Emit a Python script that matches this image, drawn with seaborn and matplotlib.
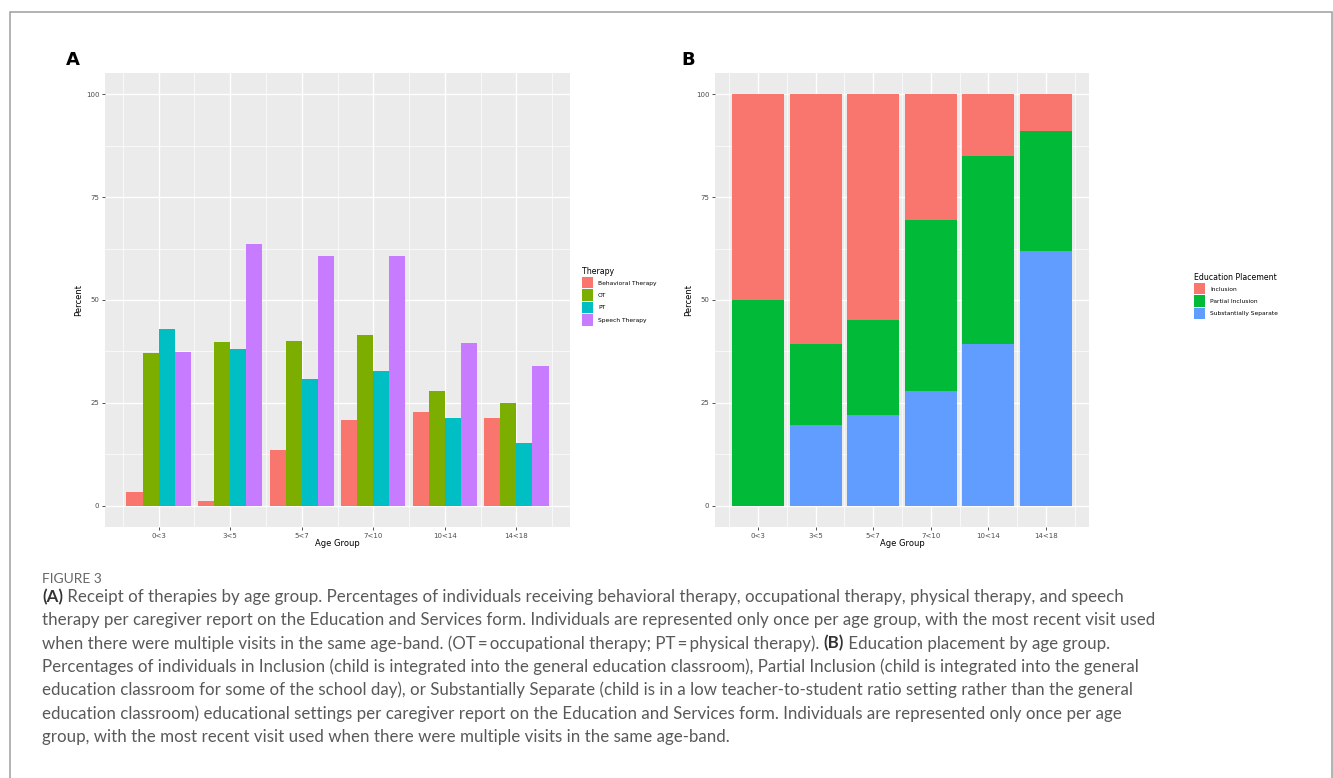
import matplotlib
matplotlib.use("Agg")
import matplotlib.pyplot as plt
import matplotlib.patches as mpatches
from matplotlib.ticker import MultipleLocator
import numpy as np
import pandas as pd
import seaborn as sns

# ---------------- data ----------------
age_groups = ["0<3", "3<5", "5<7", "7<10", "10<14", "14<18"]

therapies = ["Behavioral Therapy", "OT", "PT", "Speech Therapy"]
behavioral = [3.4, 1.1, 13.5, 20.7, 22.8, 21.2]
ot = [37.2, 39.9, 40.0, 41.4, 27.9, 25.0]
pt = [42.9, 38.0, 30.7, 32.7, 21.2, 15.2]
speech = [37.4, 63.6, 60.7, 60.8, 39.5, 34.0]

placements = ["Inclusion", "Partial Inclusion", "Substantially Separate"]
inclusion = [50.0, 60.8, 54.8, 30.5, 15.1, 9.0]
partial = [50.0, 19.7, 23.1, 41.7, 45.5, 29.0]
separate = [0.0, 19.5, 22.1, 27.8, 39.4, 62.0]

therapy_colors = ["#F8766D", "#7CAE00", "#00BFC4", "#C77CFF"]
placement_colors = ["#F8766D", "#00BA38", "#619CFF"]

caption_lines = [
    [("(A)", True), (" Receipt of therapies by age group. Percentages of individuals receiving behavioral therapy, occupational therapy, physical therapy, and speech", False)],
    [("therapy per caregiver report on the Education and Services form. Individuals are represented only once per age group, with the most recent visit used", False)],
    [("when there were multiple visits in the same age-band. (OT\u2009=\u2009occupational therapy; PT\u2009=\u2009physical therapy). ", False), ("(B)", True), (" Education placement by age group.", False)],
    [("Percentages of individuals in Inclusion (child is integrated into the general education classroom), Partial Inclusion (child is integrated into the general", False)],
    [("education classroom for some of the school day), or Substantially Separate (child is in a low teacher-to-student ratio setting rather than the general", False)],
    [("education classroom) educational settings per caregiver report on the Education and Services form. Individuals are represented only once per age", False)],
    [("group, with the most recent visit used when there were multiple visits in the same age-band.", False)],
]

# ---------------- frames ----------------
df_a = pd.DataFrame({
    "Age Group": age_groups * 4,
    "Percent": behavioral + ot + pt + speech,
    "Therapy": sum([[t] * len(age_groups) for t in therapies], []),
})

sep = np.array(separate)
sep_part = sep + np.array(partial)
total = sep_part + np.array(inclusion)
df_b = pd.DataFrame({"Age Group": age_groups, "top": total, "mid": sep_part, "low": sep})

W, H = 1333, 778
fig = plt.figure(figsize=(W / 100, H / 100), dpi=100)
fig.patch.set_facecolor("white")

TICK_C = "#4D4D4D"


def style_axes(ax):
    ax.set_facecolor("#EBEBEB")
    for s in ax.spines.values():
        s.set_visible(False)
    ax.set_xlim(-0.75, 5.75)
    ax.set_ylim(-5.2, 105.2)
    ax.yaxis.set_major_locator(MultipleLocator(25))
    ax.yaxis.set_minor_locator(MultipleLocator(12.5))
    ax.set_xticks(range(len(age_groups)))
    ax.set_xticks(np.arange(-0.5, len(age_groups), 1.0), minor=True)
    ax.set_xticklabels(age_groups)
    ax.grid(which="major", color="white", lw=1.0)
    ax.grid(which="minor", color="white", lw=0.5)
    ax.set_axisbelow(True)
    ax.tick_params(which="major", length=2.5, width=0.6, color="#333333",
                   labelsize=5, labelcolor=TICK_C, pad=1.5)
    ax.tick_params(which="minor", length=0)
    ax.set_xlabel("Age Group", fontsize=6, color="black", labelpad=0.5)
    ax.set_ylabel("Percent", fontsize=6, color="black", labelpad=2)


# ---------------- panel A ----------------
ax_a = fig.add_axes([105 / W, 1 - 527 / H, 465 / W, 454 / H])
sns.barplot(data=df_a, x="Age Group", y="Percent", hue="Therapy", order=age_groups,
            hue_order=therapies, palette=therapy_colors, width=0.9, saturation=1,
            errorbar=None, linewidth=0, legend=False, ax=ax_a)
style_axes(ax_a)

# ---------------- panel B ----------------
ax_b = fig.add_axes([715 / W, 1 - 527 / H, 374 / W, 454 / H])
for col, c in zip(["top", "mid", "low"], placement_colors):
    sns.barplot(data=df_b, x="Age Group", y=col, order=age_groups, color=c, width=0.9,
                saturation=1, errorbar=None, linewidth=0, ax=ax_b)
style_axes(ax_b)

# ---------------- legends ----------------
def add_legend(labels, colors, title, x, y):
    handles = [mpatches.Patch(facecolor=c, edgecolor="none", label=l) for l, c in zip(labels, colors)]
    leg = fig.legend(handles=handles, title=title, loc="upper left",
                     bbox_to_anchor=(x / W, 1 - y / H), frameon=False, fontsize=4.3,
                     title_fontsize=5.6, handlelength=1.84, handleheight=2.59,
                     handletextpad=0.85, labelspacing=0.16, borderpad=0, borderaxespad=0,
                     alignment="left")
    for t in leg.get_texts():
        t.set_color("black")


add_legend(therapies, therapy_colors, "Therapy", 582, 267)
add_legend(placements, placement_colors, "Education Placement", 1194, 273)

# panel letters
fig.text(66 / W, 1 - 60 / H, "A", fontsize=13, fontweight="bold", va="center", ha="left")
fig.text(681 / W, 1 - 60 / H, "B", fontsize=13, fontweight="bold", va="center", ha="left")

# frame around the figure
fig.add_artist(mpatches.Rectangle((10 / W, -0.05), 1322 / W, 1.05 - 12 / H,
                                  transform=fig.transFigure, fill=False,
                                  edgecolor="#A6A6A6", lw=1.2))

# ---------------- caption ----------------
cap_font = ["Lato", "DejaVu Sans"]
fig.text(42 / W, 1 - 579 / H, "FIGURE 3", fontsize=10, color="#666666",
         family=cap_font, va="center", ha="left")

renderer = fig.canvas.get_renderer()
# pick a size so that the second line spans roughly the same width as in the figure
probe = fig.text(0, 0, caption_lines[1][0][0], fontsize=12, family=cap_font)
w12 = probe.get_window_extent(renderer).width
probe.remove()
cap_size = 12 * 1101 / w12

y0 = 597
for i, segs in enumerate(caption_lines):
    x = 42
    y = y0 + i * 23.3
    for txt, bold in segs:
        t = fig.text(x / W, 1 - y / H, txt, fontsize=cap_size, family=cap_font,
                     color="#333333" if bold else "#595959",
                     fontweight="bold" if bold else "normal", va="center", ha="left")
        x += t.get_window_extent(renderer).width

fig.savefig("out.png", dpi=100, facecolor="white")
